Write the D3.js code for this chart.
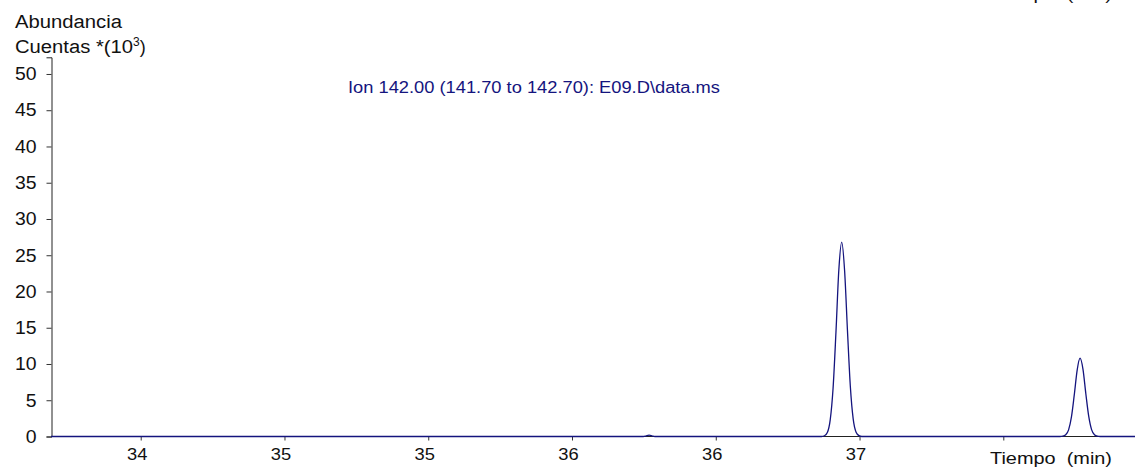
<!DOCTYPE html>
<html>
<head>
<meta charset="utf-8">
<script src="https://cdn.jsdelivr.net/npm/d3@7"></script>
<style>
  html, body { margin: 0; padding: 0; background: #fff; }
  svg { display: block; }
  text { font-family: "Liberation Sans", Arial, sans-serif; }
</style>
</head>
<body>
<svg id="chart" width="1137" height="474"></svg>
<script>
// Extracted ion chromatogram, m/z 142 (abundance in thousands of counts)
const times = [
  33.688, 35.748, 35.758, 35.768, 35.778, 35.788,
  36.368, 36.378, 36.388, 36.398, 36.408, 36.418, 36.428, 36.438,
  36.448, 36.458, 36.468, 36.478, 36.488, 36.498, 36.508,
  37.197, 37.207, 37.217, 37.227, 37.237, 37.247, 37.257, 37.267,
  37.277, 37.287, 37.297, 37.307, 37.317, 37.327, 37.337, 37.458
];
const abundance = [
  0, 0, 0.10, 0.18, 0.10, 0,
  0, 0.10, 0.55, 2.3, 6.7, 14.4, 23.0, 26.8,
  22.9, 14.6, 6.9, 2.4, 0.6, 0.12, 0,
  0, 0.04, 0.23, 0.92, 2.7, 5.8, 9.2, 10.8,
  9.3, 5.9, 2.8, 0.95, 0.25, 0.05, 0, 0
];

// Axis ticks
const xMajorTicks = [34, 34.5, 35, 35.5, 36, 36.5, 37];
const xTickLabels = ["34", "35", "35", "36", "36", "37", ""];
const xMinorTicks = d3.range(33.7, 37.45, 0.1).map(v => +v.toFixed(1));
const yMajorTicks = [0, 5, 10, 15, 20, 25, 30, 35, 40, 45, 50];
const yMinorTicks = d3.range(0, 53, 1);

const traceTitle = "Ion 142.00 (141.70 to 142.70): E09.D\\data.ms";

const svg = d3.select("#chart");
const navy = "#14147e";
const ink = "#111";
const fontFamily = "Liberation Sans, Arial, sans-serif";

const x = d3.scaleLinear().domain([33.688, 37.458]).range([51, 1135]);
const y = d3.scaleLinear().domain([0, 52.3]).range([436.5, 57.3]);

// Y axis: minor ticks every unit, labelled majors every 5
const yAxisMinor = d3.axisLeft(y).tickValues(yMinorTicks).tickSize(3).tickFormat("");
const yAxisMajor = d3.axisLeft(y).tickValues(yMajorTicks).tickSize(5).tickPadding(10)
  .tickFormat(d3.format("d"));

const gy = svg.append("g").attr("transform", "translate(51.5,0)");
gy.call(yAxisMinor);
gy.call(yAxisMajor);
gy.selectAll("path.domain").attr("stroke", "#222").attr("stroke-width", 1);
gy.selectAll(".tick line").attr("stroke", "#333");
gy.selectAll(".tick text")
  .attr("font-size", 18).attr("fill", ink).attr("font-family", fontFamily)
  .attr("textLength", function () { return this.textContent.length * 10.8; })
  .attr("lengthAdjust", "spacingAndGlyphs");

// X axis: ticks every 0.1 min, labelled every 0.5 min
const xAxisMinor = d3.axisBottom(x).tickValues(xMinorTicks).tickSize(4).tickFormat("");
const xAxisMajor = d3.axisBottom(x).tickValues(xMajorTicks).tickSize(4).tickPadding(7)
  .tickFormat((d, i) => xTickLabels[i]);

const gx = svg.append("g").attr("transform", "translate(0,436.5)");
gx.call(xAxisMinor);
gx.call(xAxisMajor);
gx.selectAll("path.domain").attr("stroke", "#222").attr("stroke-width", 1)
  .attr("d", `M${x.range()[0]},0H${x.range()[1]}`);
gx.selectAll(".tick line").attr("stroke", "#333");
gx.selectAll(".tick text")
  .attr("font-size", 17).attr("fill", ink).attr("font-family", fontFamily)
  .attr("dx", -4)
  .attr("textLength", function () { return this.textContent.length * 10.2; })
  .attr("lengthAdjust", "spacingAndGlyphs");

// Trace
const line = d3.line()
  .x((d, i) => x(times[i]))
  .y(d => y(d))
  .curve(d3.curveMonotoneX);

svg.append("path")
  .datum(abundance)
  .attr("d", line)
  .attr("fill", "none")
  .attr("stroke", navy)
  .attr("stroke-width", 1.3);

// Trace title
svg.append("text")
  .attr("x", 348).attr("y", 93)
  .attr("font-size", 16).attr("fill", navy)
  .attr("textLength", 372).attr("lengthAdjust", "spacingAndGlyphs")
  .text(traceTitle);

// Axis titles
svg.append("text").attr("x", 15).attr("y", 28).attr("font-size", 18).attr("fill", ink)
  .attr("textLength", 107).attr("lengthAdjust", "spacingAndGlyphs")
  .text("Abundancia");
const yt = svg.append("text").attr("x", 15).attr("y", 53).attr("font-size", 18).attr("fill", ink);
yt.append("tspan").attr("textLength", 118).attr("lengthAdjust", "spacingAndGlyphs")
  .text("Cuentas *(10");
yt.append("tspan").attr("font-size", 12).attr("dy", -7).text("3");
yt.append("tspan").attr("dy", 7).text(")");

function timeLabel(yPos) {
  svg.append("text").attr("x", 990).attr("y", yPos).attr("font-size", 17).attr("fill", ink)
    .style("white-space", "pre")
    .attr("textLength", 122).attr("lengthAdjust", "spacingAndGlyphs")
    .text("Tiempo  (min)");
}
timeLabel(464);
timeLabel(-0.5);
</script>
</body>
</html>
